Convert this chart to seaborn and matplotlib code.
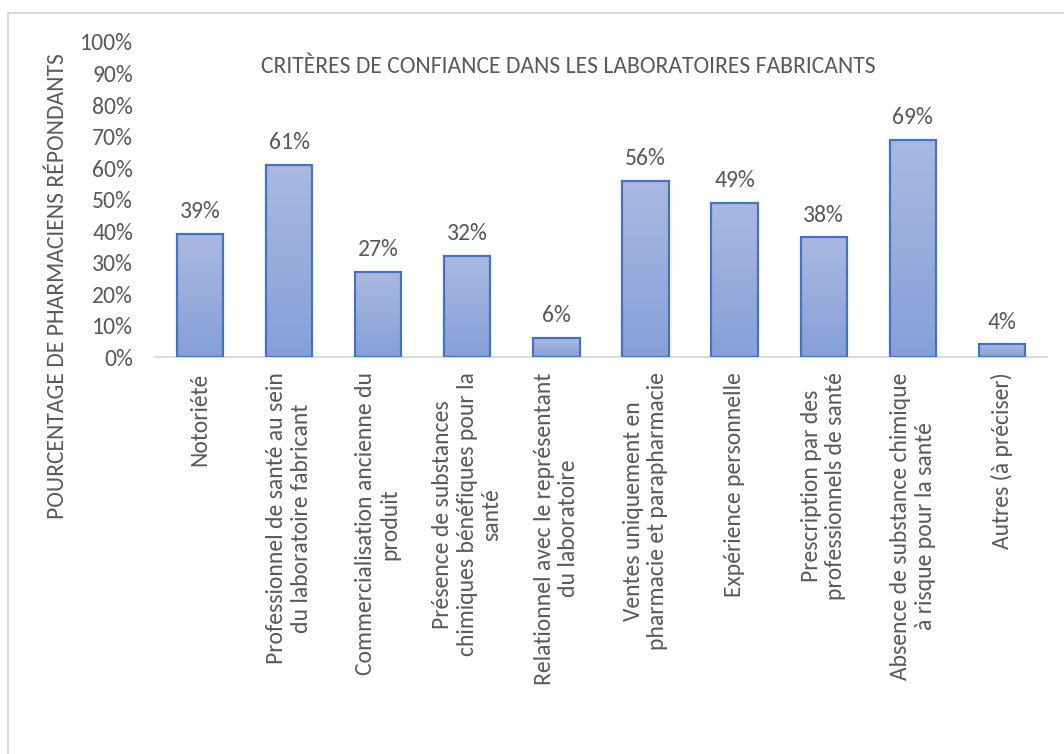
import numpy as np
import pandas as pd
import seaborn as sns
import matplotlib.pyplot as plt
from matplotlib.colors import LinearSegmentedColormap
from matplotlib.lines import Line2D

categories = [
    "Notoriété",
    "Professionnel de santé au sein\ndu laboratoire fabricant",
    "Commercialisation ancienne du\nproduit",
    "Présence de substances\nchimiques bénéfiques pour la\nsanté",
    "Relationnel avec le représentant\ndu laboratoire",
    "Ventes uniquement en\npharmacie et parapharmacie",
    "Expérience personnelle",
    "Prescription par des\nprofessionnels de santé",
    "Absence de substance chimique\nà risque pour la santé",
    "Autres (à préciser)",
]
values = [39, 61, 27, 32, 6, 56, 49, 38, 69, 4]
yticks = [0, 10, 20, 30, 40, 50, 60, 70, 80, 90, 100]

sns.set_style("white")
plt.rcParams['font.family'] = ['Carlito', 'DejaVu Sans']
grey = '#595959'
fs = 17

df = pd.DataFrame({'critere': categories, 'pct': values})

fig = plt.figure(figsize=(10.64, 7.54), dpi=100)
ax = fig.add_axes([0.146, 0.5265, 0.8376, 0.4178])

sns.barplot(data=df, x='critere', y='pct', color='#9AADDC', width=0.52,
            edgecolor='#4472C4', linewidth=1.6, ax=ax)

# gradient fill inside each bar (darker at the bottom)
cmap = LinearSegmentedColormap.from_list('grad', ['#87A0D8', '#AAB9E0'])
grad = np.linspace(0, 1, 256).reshape(-1, 1)
for p in ax.patches:
    x0, w, h = p.get_x(), p.get_width(), p.get_height()
    im = ax.imshow(grad, cmap=cmap, aspect='auto', origin='lower',
                   extent=[x0, x0 + w, 0, h], zorder=2)
    im.set_clip_path(p)
    p.set_facecolor('none')
    p.set_zorder(3)

ax.set_xlim(-0.5, len(categories) - 0.5)
ax.set_ylim(0, 100)
ax.set_yticks(yticks)
ax.set_yticklabels([f"{v}%" for v in yticks], fontsize=fs, color=grey)
ax.tick_params(axis='y', length=0, pad=16)
ax.tick_params(axis='x', length=0, pad=11)
ax.set_xticks(range(len(categories)))
ax.set_xticklabels(categories, rotation=90, fontsize=fs, color=grey,
                   ha='center', va='top', multialignment='center',
                   linespacing=1.2)

for s in ['top', 'right', 'left']:
    ax.spines[s].set_visible(False)
ax.spines['bottom'].set_color('#D9D9D9')
ax.spines['bottom'].set_linewidth(1.3)

ax.bar_label(ax.containers[0], labels=[f"{v}%" for v in values],
             padding=8.5, fontsize=fs, color=grey)

ax.set_xlabel('')
ax.set_ylabel('')
fig.text(0.0536, 0.6207, 'POURCENTAGE DE PHARMACIENS RÉPONDANTS', rotation=90,
         ha='center', va='center', fontsize=fs, color=grey)

fig.text(0.5343, 0.903, 'CRITÈRES DE CONFIANCE DANS LES LABORATOIRES FABRICANTS',
         ha='center', va='baseline', fontsize=fs, color=grey)

# light frame of the chart area (top and left edges only)
fig.add_artist(Line2D([0.0075, 1.0], [0.983, 0.983], transform=fig.transFigure,
                      color='#D9D9D9', linewidth=1.5))
fig.add_artist(Line2D([0.0075, 0.0075], [0.0, 0.983], transform=fig.transFigure,
                      color='#D9D9D9', linewidth=1.5))

fig.savefig('out.png', dpi=100)
